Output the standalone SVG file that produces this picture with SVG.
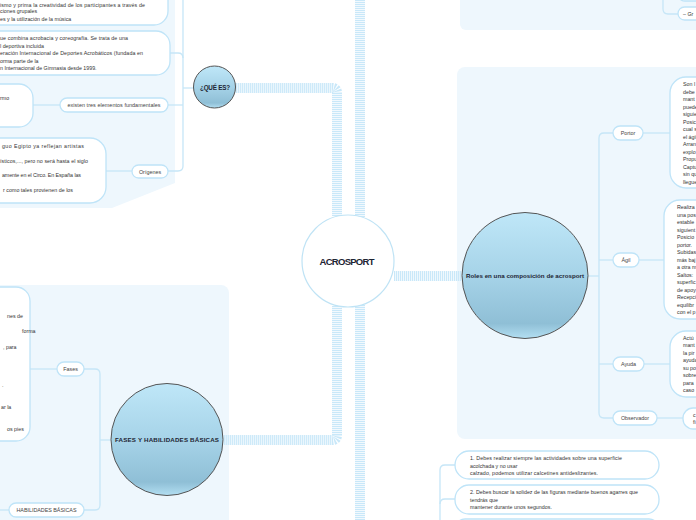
<svg xmlns="http://www.w3.org/2000/svg" width="696" height="520" viewBox="0 0 696 520">
<defs>
<linearGradient id="g" x1="0" y1="0" x2="0" y2="1">
<stop offset="0" stop-color="#bfe7f8"/>
<stop offset="0.5" stop-color="#a6d3e8"/>
<stop offset="0.88" stop-color="#8fbfd6"/>
<stop offset="1" stop-color="#b3dff2"/>
</linearGradient>
<style>
.panel{fill:#eef7fd}
.box{fill:#fff;stroke:#bfe4f8;stroke-width:1.3}
.ln{fill:none;stroke:#c6e6f7;stroke-width:1.3}
.thick{fill:none;stroke:#c9e8f9;stroke-width:10;stroke-dasharray:1.3 0.7}
.t{font-family:"Liberation Sans","Noto Sans",sans-serif;font-size:5.3px;fill:#333}
.lb{font-family:"Liberation Sans","Noto Sans",sans-serif;font-size:5.4px;fill:#444;text-anchor:middle}
.ct{font-family:"Liberation Sans","Noto Sans",sans-serif;font-weight:bold;fill:#1d2433;text-anchor:middle}
.sub{fill:url(#g);stroke:#555;stroke-width:1}
</style>
</defs>
<rect width="696" height="520" fill="#fff"/>
<path class="panel" d="M0 0 H175 V183 L112 208 H0 Z"/>
<rect class="panel" x="460" y="-10" width="246" height="40" rx="6"/>
<rect class="panel" x="457" y="67" width="250" height="372" rx="8"/>
<rect class="panel" x="-10" y="285" width="239" height="245" rx="8"/>
<g id="connectors">
<path class="thick" d="M337 216 V93 Q337 88 332 88 H235"/>
<path class="thick" d="M360 217 V0"/>
<path class="thick" d="M394 276 H462"/>
<path class="thick" d="M337 306 V435 Q337 440 332 440 H223"/>
<path class="thick" d="M360 305 V520"/>
<path class="ln" d="M195 88 H183"/>
<path class="ln" d="M183 0 V166 Q183 171 178 171 H168"/>
<path class="ln" d="M170 53 H178 Q183 53 183 58"/>
<path class="ln" d="M168 105 H183"/>
<path class="ln" d="M33 105 H60"/>
<path class="ln" d="M106 171 H132"/>
<path class="ln" d="M588 276 H599"/>
<path class="ln" d="M613 133 H604 Q599 133 599 138 V413 Q599 418 604 418 H613"/>
<path class="ln" d="M599 260 H613"/>
<path class="ln" d="M599 364 H613"/>
<path class="ln" d="M643 133 H670"/>
<path class="ln" d="M639 260 H664"/>
<path class="ln" d="M644 364 H670"/>
<path class="ln" d="M657 418 H683"/>
<path class="ln" d="M111 440 H100"/>
<path class="ln" d="M84 369 H95 Q100 369 100 374 V505 Q100 510 95 510 H84"/>
<path class="ln" d="M30 369 H57"/>
<path class="ln" d="M0 510 H9"/>
<path class="ln" d="M455 465 H445 Q440 465 440 470 V520"/>
<path class="ln" d="M455 499 H445 Q440 499 440 504"/>
<path class="ln" d="M663 0 V9 Q663 14 668 14 H678"/>
</g>
<g id="acrosport">
<circle cx="348" cy="261" r="46" fill="#fff" stroke="#bfe3f5" stroke-width="1.2"/>
<text class="ct" x="347" y="264.5" font-size="9.5" fill="#1e2a4f" textLength="55">ACROSPORT</text>
</g>
<g id="que-es">
<circle class="sub" cx="214.5" cy="87" r="21"/>
<text class="ct" x="215" y="89.5" font-size="6.3" textLength="30">¿QUÉ ES?</text>
</g>
<g id="q-box1">
<rect class="box" x="-20" y="-20" width="188" height="45" rx="14"/>
<text class="t" x="0" y="6.5" textLength="145">ismo y prima la creatividad de los participantes a través de</text>
<text class="t" x="0" y="13">ciones grupales</text>
<text class="t" x="0" y="21">es y la utilización de la música</text>
</g>
<g id="q-box2">
<rect class="box" x="-20" y="31" width="190" height="44" rx="14"/>
<text class="t" x="0" y="40" textLength="128">ue combina acrobacia y coreografía. Se trata de una</text>
<text class="t" x="0" y="47.5">l deportiva incluida</text>
<text class="t" x="0" y="55" textLength="143">eración Internacional de Deportes Acrobáticos (fundada en</text>
<text class="t" x="0" y="62.5">orma parte de la</text>
<text class="t" x="0" y="70">n Internacional de Gimnasia desde 1999.</text>
</g>
<g id="q-existen">
<rect class="box" x="60" y="98" width="108" height="14" rx="7"/>
<text class="lb" x="114" y="107" textLength="93">existen tres elementos fundamentales</text>
</g>
<g id="q-elementos">
<rect class="box" x="-20" y="84" width="53" height="43" rx="14"/>
<text class="t" x="0" y="100">rmo</text>
</g>
<g id="q-origenes">
<rect class="box" x="132" y="165" width="36" height="13" rx="6.5"/>
<text class="lb" x="150" y="173.5">Orígenes</text>
</g>
<g id="q-origenes-txt">
<rect class="box" x="-20" y="138" width="126" height="65" rx="16"/>
<text class="t" x="2" y="148" textLength="82">guo Egipto ya reflejan artistas</text>
<text class="t" x="0" y="163" textLength="88">ísticos,..., pero no será hasta el siglo</text>
<text class="t" x="2" y="177" textLength="79">amente en el Circo. En España las</text>
<text class="t" x="3" y="192" textLength="70">r como tales provienen de los</text>
</g>
<g id="top-right">
<rect class="box" x="678" y="-12" width="40" height="13" rx="6.5"/>
<rect class="box" x="678" y="7" width="40" height="13" rx="6.5"/>
<text class="t" x="683" y="15.5">– Gr</text>
</g>
<g id="roles">
<circle class="sub" cx="525" cy="275.5" r="63"/>
<text class="ct" x="525" y="278" font-size="6.2" textLength="118">Roles en una composición de acrosport</text>
</g>
<g id="portor">
<rect class="box" x="613" y="126" width="30" height="14" rx="7"/>
<text class="lb" x="628" y="135">Portor</text>
</g>
<g id="portor-txt">
<rect class="box" x="670" y="77" width="60" height="111" rx="16"/>
<text class="t" x="683" y="86">Son l</text>
<text class="t" x="683" y="93.5">debe</text>
<text class="t" x="683" y="101">mant</text>
<text class="t" x="683" y="108.5">puede</text>
<text class="t" x="683" y="116">siguie</text>
<text class="t" x="683" y="123.5">Posic</text>
<text class="t" x="683" y="131">cual s</text>
<text class="t" x="683" y="138.5">el ágil</text>
<text class="t" x="683" y="146">Arran</text>
<text class="t" x="683" y="153.5">explo</text>
<text class="t" x="683" y="161">Propu</text>
<text class="t" x="683" y="168.5">Captu</text>
<text class="t" x="683" y="176">sin qu</text>
<text class="t" x="683" y="183.5">llegue</text>
</g>
<g id="agil">
<rect class="box" x="613" y="253" width="26" height="14" rx="7"/>
<text class="lb" x="626" y="262">Ágil</text>
</g>
<g id="agil-txt">
<rect class="box" x="664" y="200" width="60" height="119" rx="16"/>
<text class="t" x="677" y="209">Realiza</text>
<text class="t" x="677" y="216.5">una pos</text>
<text class="t" x="677" y="224">estable</text>
<text class="t" x="677" y="231.5">siguient</text>
<text class="t" x="677" y="239">Posicio</text>
<text class="t" x="677" y="246.5">portor.</text>
<text class="t" x="677" y="254">Subidas</text>
<text class="t" x="677" y="261.5">más baj</text>
<text class="t" x="677" y="269">a otra m</text>
<text class="t" x="677" y="276.5">Saltos:</text>
<text class="t" x="677" y="284">superfic</text>
<text class="t" x="677" y="291.5">de apoy</text>
<text class="t" x="677" y="299">Recepci</text>
<text class="t" x="677" y="306.5">equilibr</text>
<text class="t" x="677" y="314">con el p</text>
</g>
<g id="ayuda">
<rect class="box" x="613" y="357" width="31" height="14" rx="7"/>
<text class="lb" x="628.5" y="366">Ayuda</text>
</g>
<g id="ayuda-txt">
<rect class="box" x="670" y="331" width="60" height="66" rx="16"/>
<text class="t" x="683" y="339.5">Actú</text>
<text class="t" x="683" y="347">mant</text>
<text class="t" x="683" y="354.5">la pir</text>
<text class="t" x="683" y="362">ayuda</text>
<text class="t" x="683" y="369.5">su po</text>
<text class="t" x="683" y="377">sobre</text>
<text class="t" x="683" y="384.5">para</text>
<text class="t" x="683" y="392">caso</text>
</g>
<g id="observador">
<rect class="box" x="613" y="411" width="44" height="14" rx="7"/>
<text class="lb" x="635" y="420">Observador</text>
</g>
<g id="observador-txt">
<rect class="box" x="683" y="408" width="40" height="21" rx="10"/>
<text class="t" x="693" y="417">c</text>
<text class="t" x="693" y="424">fi</text>
</g>
<g id="norma1">
<rect class="box" x="455" y="451" width="204" height="28" rx="14"/>
<text class="t" x="470" y="460" textLength="152">1. Debes realizar siempre las actividades sobre una superficie</text>
<text class="t" x="470" y="467.5">acolchada y no usar</text>
<text class="t" x="470" y="475" textLength="128">calzado, podemos utilizar calcetines antideslizantes.</text>
</g>
<g id="norma2">
<rect class="box" x="455" y="485" width="204" height="29" rx="14"/>
<text class="t" x="470" y="494" textLength="168">2. Debes buscar la solidez de las figuras mediante buenos agarres que</text>
<text class="t" x="470" y="501.5">tendrás que</text>
<text class="t" x="470" y="509" textLength="82">mantener durante unos segundos.</text>
</g>
<g id="norma3">
<rect class="box" x="455" y="519" width="204" height="20" rx="10"/>
</g>
<g id="fases-hab">
<circle class="sub" cx="167" cy="439.5" r="56"/>
<text class="ct" x="167" y="442" font-size="6.2" textLength="104">FASES Y HABILIDADES BÁSICAS</text>
</g>
<g id="fases">
<rect class="box" x="57" y="362" width="27" height="14" rx="7"/>
<text class="lb" x="70.5" y="371">Fases</text>
</g>
<g id="fases-txt">
<rect class="box" x="-20" y="287" width="50" height="154" rx="14"/>
<text class="t" x="7" y="318">nes de</text>
<text class="t" x="22" y="333">forma</text>
<text class="t" x="3" y="349">, para</text>
<text class="t" x="2" y="387">.</text>
<text class="t" x="1" y="409">ar la</text>
<text class="t" x="7" y="431">os pies</text>
</g>
<g id="habilidades">
<rect class="box" x="9" y="503" width="75" height="14" rx="7"/>
<text class="lb" x="46.5" y="512" textLength="60">HABILIDADES BÁSICAS</text>
</g>
</svg>
